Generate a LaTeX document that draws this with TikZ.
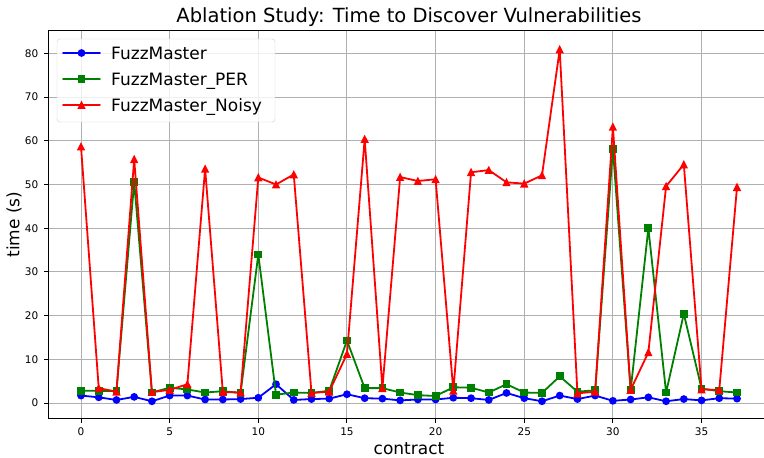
\documentclass[tikz,border=0pt]{standalone}
\usepackage{fontspec}
\setmainfont{DejaVu Sans}
\definecolor{fmblue}{HTML}{0000FF}
\definecolor{pergreen}{HTML}{008000}
\definecolor{noisyred}{HTML}{FF0000}
\definecolor{gridgray}{HTML}{B0B0B0}
\definecolor{legendgray}{HTML}{CCCCCC}
\tikzset{
  gridline/.style={gridgray, line width=1pt},
  spine/.style={black, line width=1pt},
  series/.style={line width=1.8pt, line join=round, line cap=round},
  ticklabel/.style={inner sep=0pt, font=\fontsize{10.5}{12}\selectfont},
  axislabel/.style={inner sep=0pt, font=\fontsize{17}{20}\selectfont},
  legendtext/.style={inner sep=0pt, anchor=base west, font=\fontsize{17}{20}\selectfont},
  fmmark/.pic={\fill[fmblue] (0,0) circle (3.9pt);},
  permark/.pic={\fill[pergreen] (-3.9pt,-3.9pt) rectangle (3.9pt,3.9pt);},
  noisymark/.pic={\fill[noisyred] (0,4.4pt) -- (-4.2pt,-3.9pt) -- (4.2pt,-3.9pt) -- cycle;}
}
\def\fmData{0/1.7,1/1.3,2/0.7,3/1.4,4/0.4,5/1.7,6/1.7,7/0.8,8/0.8,9/0.9,10/1.2,11/4.3,12/0.7,13/0.9,14/1.0,15/2.0,16/1.1,17/1.0,18/0.6,19/0.8,20/0.8,21/1.2,22/1.1,23/0.7,24/2.3,25/1.1,26/0.4,27/1.7,28/0.9,29/1.7,30/0.5,31/0.8,32/1.3,33/0.4,34/0.9,35/0.6,36/1.1,37/1.0}
\def\perData{0/2.8,1/2.8,2/2.7,3/50.6,4/2.4,5/3.5,6/3.1,7/2.4,8/2.7,9/2.3,10/34.0,11/1.9,12/2.4,13/2.3,14/2.8,15/14.3,16/3.4,17/3.4,18/2.4,19/1.8,20/1.6,21/3.6,22/3.5,23/2.4,24/4.3,25/2.4,26/2.3,27/6.1,28/2.6,29/2.9,30/58.2,31/2.9,32/40.0,33/2.4,34/20.4,35/3.3,36/2.7,37/2.4}
\def\noisyData{0/58.7,1/3.4,2/2.6,3/55.8,4/2.5,5/3.0,6/4.3,7/53.6,8/2.5,9/2.4,10/51.6,11/50.0,12/52.3,13/2.3,14/2.6,15/11.2,16/60.4,17/3.4,18/51.7,19/50.8,20/51.2,21/2.8,22/52.8,23/53.3,24/50.5,25/50.2,26/52.1,27/80.9,28/2.2,29/2.6,30/63.2,31/3.0,32/11.6,33/49.6,34/54.6,35/3.1,36/3.0,37/49.4}
\begin{document}
\begin{tikzpicture}[x=1pt, y=-1pt]
\useasboundingbox (0,0) rectangle (764,458);
\clip (0,0) rectangle (764,458);
\node[inner sep=0pt, font=\fontsize{19.5}{23}\selectfont] (title) at (409,17) {Ablation Study: Time to Discover Vulnerabilities};
\node[axislabel] (xlabel) at (409,448.5) {contract};
\node[axislabel, rotate=90] (ylabel) at (14,224.5) {time (s)};

\begin{scope}[shift={(81,403)}, x=17.73pt, y=4.37pt]
  % grid
  \foreach \x in {0,5,...,35} \draw[gridline] (\x,-3.66) -- (\x,85.35);
  \foreach \y in {0,10,...,80} \draw[gridline] (-1.86,\y) -- (38.85,\y);

  % the three runs
  \draw[series, fmblue] (0,1.7) \foreach \x/\y in \fmData {-- (\x,\y)};
  \foreach \x/\y in \fmData \pic at (\x,\y) {fmmark};
  \draw[series, pergreen] (0,2.8) \foreach \x/\y in \perData {-- (\x,\y)};
  \foreach \x/\y in \perData \pic at (\x,\y) {permark};
  \draw[series, noisyred] (0,58.7) \foreach \x/\y in \noisyData {-- (\x,\y)};
  \foreach \x/\y in \noisyData \pic at (\x,\y) {noisymark};

  % axes
  \draw[spine] (-1.86,-3.66) rectangle (38.85,85.35);
  \foreach \x in {0,5,...,35}
  {
    \draw[spine] (\x,-3.66) -- ++(0,-4.2pt);
    \node[ticklabel, anchor=north, yshift=-8.6pt] (xt\x) at (\x,-3.66) {\x};
  }
  \foreach \y in {0,10,...,80}
  {
    \draw[spine] (-1.86,\y) -- ++(-4.2pt,0);
    \node[ticklabel, anchor=east, xshift=-9.6pt] (yt\y) at (-1.86,\y) {\y};
  }
\end{scope}

% legend
\draw[legendgray, fill=white, fill opacity=0.8, rounded corners=3pt] (57,39) rectangle (275,122);
\draw[series, fmblue] (63,53) -- (100,53);
\pic at (81.5,53) {fmmark};
\node[legendtext] (lfm) at (111,59) {FuzzMaster};
\draw[series, pergreen] (63,79) -- (100,79);
\pic at (81.5,79) {permark};
\node[legendtext] (lper) at (111,85) {FuzzMaster\_PER};
\draw[series, noisyred] (63,105) -- (100,105);
\pic at (81.5,105) {noisymark};
\node[legendtext] (lnoisy) at (111,111) {FuzzMaster\_Noisy};
\end{tikzpicture}
\end{document}
